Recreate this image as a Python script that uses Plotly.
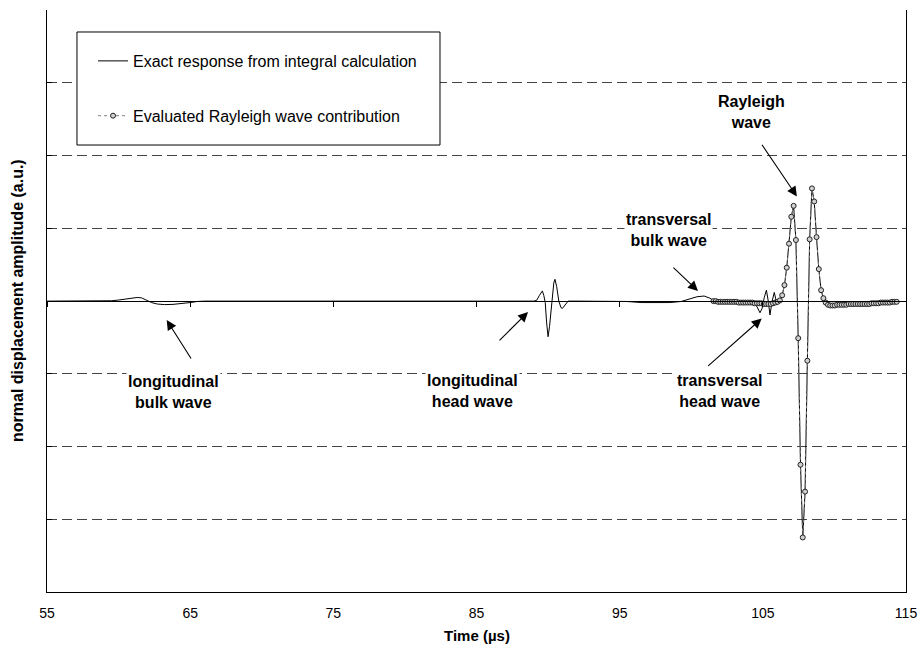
import plotly.graph_objects as go

# ---------------- data ----------------
# Exact response from integral calculation (time in µs, amplitude in a.u.)
exact_t = [55.0, 59.0, 59.5, 60.0, 60.5, 61.0, 61.3, 61.6, 62.0, 62.3, 62.7, 63.2, 63.8, 64.4,
           65.0, 65.5, 66.0, 89.0, 89.2, 89.4, 89.6, 89.7, 89.8, 89.9, 90.0, 90.1, 90.25,
           90.4, 90.48, 90.6, 90.75, 90.9, 91.0, 91.15, 91.4, 92.0, 95.5, 96.5, 97.5, 98.5,
           99.3, 99.8, 100.4, 100.9, 101.3, 101.6, 102.0, 103.0, 104.0, 104.4, 104.6, 104.8,
           104.95, 105.1, 105.25, 105.38, 105.5, 105.65, 105.8, 105.9, 106.0, 106.1,
           106.19, 106.35, 106.51, 106.67, 106.83, 106.99, 107.15, 107.31, 107.47, 107.63,
           107.79, 107.95, 108.11, 108.27, 108.43, 108.59, 108.75, 108.91, 109.07, 109.23,
           109.4, 109.6, 110.0, 111.0, 112.0, 113.0, 114.43]
exact_v = [0.0, 0.0, 0.005, 0.015, 0.03, 0.045, 0.05, 0.045, 0.01, -0.02, -0.04, -0.048, -0.045, -0.035,
           -0.02, -0.005, 0.0, 0.0, 0.01, 0.08, 0.14, 0.08, -0.02, -0.3, -0.49, -0.35, 0.0,
           0.25, 0.30, 0.2, 0.0, -0.09, -0.10, -0.06, 0.0, 0.0, -0.005, -0.02, -0.025, -0.02,
           -0.005, 0.02, 0.06, 0.07, 0.04, 0.005, -0.005, -0.01, -0.02, -0.04, -0.08, -0.16,
           -0.1, 0.05, 0.15, 0.0, -0.19, 0.0, 0.12, 0.03, -0.05, -0.01,
           0.01, 0.08, 0.22, 0.46, 0.79, 1.16, 1.31, 0.84, -0.51, -2.25,
           -3.25, -2.62, -0.82, 0.85, 1.55, 1.37, 0.88, 0.44, 0.15, 0.04,
           -0.03, -0.06, -0.06, -0.05, -0.04, -0.03, -0.01]

# Evaluated Rayleigh wave contribution
rayleigh_t = [101.55, 101.71, 101.87, 102.03, 102.19, 102.35, 102.51, 102.67, 102.83, 102.99,
              103.15, 103.31, 103.47, 103.63, 103.79, 103.95, 104.11, 104.27, 104.43, 104.59,
              104.75, 104.91, 105.07, 105.23, 105.39, 105.55, 105.71, 105.87, 106.03,
              106.19, 106.35, 106.51, 106.67, 106.83, 106.99, 107.15, 107.31, 107.47, 107.63,
              107.79, 107.95, 108.11, 108.27, 108.43, 108.59, 108.75, 108.91, 109.07, 109.23,
              109.39, 109.55, 109.71, 109.87, 110.03, 110.19, 110.35, 110.51, 110.67, 110.83,
              110.99, 111.15, 111.31, 111.47, 111.63, 111.79, 111.95, 112.11, 112.27, 112.43,
              112.59, 112.75, 112.91, 113.07, 113.23, 113.39, 113.55, 113.71, 113.87, 114.03,
              114.19, 114.35]
rayleigh_v = [0.00, 0.00, -0.01, -0.01, -0.01, -0.01, -0.01, -0.01, -0.01, -0.01,
              -0.01, -0.02, -0.02, -0.02, -0.02, -0.02, -0.02, -0.02, -0.03, -0.03,
              -0.03, -0.03, -0.04, -0.04, -0.04, -0.04, -0.03, -0.02, -0.01,
              0.01, 0.08, 0.22, 0.46, 0.79, 1.16, 1.31, 0.84, -0.51, -2.25,
              -3.25, -2.62, -0.82, 0.85, 1.55, 1.37, 0.88, 0.44, 0.15, 0.04,
              -0.02, -0.05, -0.06, -0.06, -0.06, -0.05, -0.05, -0.05, -0.05, -0.05,
              -0.04, -0.04, -0.04, -0.04, -0.04, -0.04, -0.04, -0.04, -0.04, -0.04,
              -0.03, -0.03, -0.03, -0.03, -0.02, -0.02, -0.02, -0.02, -0.02, -0.01,
              -0.01, -0.01]

x_ticks = [55, 65, 75, 85, 95, 105, 115]
y_grid = [-4, -3, -2, -1, 0, 1, 2, 3, 4]

# annotation labels: text, text centre (t, amplitude), arrow head (t, amplitude), arrow tail (t, amplitude)
label_text = ["longitudinal<br>bulk wave", "longitudinal<br>head wave", "transversal<br>bulk wave",
              "transversal<br>head wave", "Rayleigh<br>wave"]
label_pos = [(63.85, -1.25), (84.7, -1.24), (98.4, 0.98), (102.0, -1.24), (104.2, 2.60)]
arrow_head = [(63.36, -0.26), (88.6, -0.15), (100.47, 0.14), (104.92, -0.24), (107.38, 1.44)]
arrow_tail = [(65.13, -0.81), (86.5, -0.56), (98.65, 0.48), (101.08, -0.91), (104.87, 2.17)]

# ---------------- figure ----------------
FONT = "Arial, Liberation Sans, sans-serif"
fig = go.Figure()

fig.add_trace(go.Scatter(
    x=exact_t, y=exact_v, mode="lines",
    name="Exact response from integral calculation",
    line=dict(color="black", width=1),
    legendgroup="a",
))
fig.add_trace(go.Scatter(
    x=rayleigh_t, y=rayleigh_v, mode="lines+markers",
    name="Evaluated Rayleigh wave contribution",
    line=dict(color="#7f7f7f", width=1, dash="dot"),
    marker=dict(symbol="circle", size=5, color="#d0d0d0", line=dict(color="#222222", width=1)),
    legendgroup="b",
    xaxis="x2",
))

for text, (tx, ty), (hx, hy), (sx, sy) in zip(label_text, label_pos, arrow_head, arrow_tail):
    fig.add_annotation(x=tx, y=ty, text="<b>" + text + "</b>", showarrow=False,
                       font=dict(family=FONT, size=16, color="black"),
                       bgcolor="white", align="center", xanchor="center", yanchor="middle")
    fig.add_annotation(x=hx, y=hy, ax=sx, ay=sy, axref="x", ayref="y", text="",
                       showarrow=True, arrowhead=2, arrowsize=1.8, arrowwidth=1.1,
                       arrowcolor="black")

# axis titles
fig.add_annotation(xref="paper", yref="paper", x=-0.0349, y=0.5, text="<b>normal displacement amplitude (a.u.)</b>",
                   textangle=-90, showarrow=False, xanchor="center", yanchor="middle",
                   font=dict(family=FONT, size=16, color="black"))
fig.add_annotation(xref="paper", yref="paper", x=0.5, y=-0.0756, text="<b>Time (µs)</b>",
                   showarrow=False, xanchor="center", yanchor="middle",
                   font=dict(family=FONT, size=15, color="black"))

# legend frame
fig.add_shape(type="rect", xref="paper", yref="paper",
              x0=0.0349, x1=0.4575, y0=0.768, y1=0.9622,
              line=dict(color="black", width=1), fillcolor="white", layer="above")

fig.update_layout(
    width=922, height=655,
    margin=dict(l=47, r=16, t=10, b=63),
    paper_bgcolor="white", plot_bgcolor="white",
    font=dict(family=FONT, size=14, color="black"),
    showlegend=True,
    legend=dict(x=0.0536, y=0.9416, xanchor="left", yanchor="top",
                bgcolor="rgba(0,0,0,0)", borderwidth=0,
                font=dict(family=FONT, size=16, color="black"),
                itemwidth=30, tracegroupgap=31, traceorder="grouped"),
    xaxis=dict(range=[55, 115], tickvals=x_ticks, ticks="", showgrid=False, zeroline=False,
               showline=True, linecolor="black", linewidth=1, automargin=False,
               tickfont=dict(size=14), ticklabelstandoff=8, ticklabeloverflow="allow"),
    xaxis2=dict(overlaying="x", matches="x", anchor="free", position=0.5,
                tickvals=x_ticks, ticks="outside", ticklen=5, tickcolor="black",
                showticklabels=False, showgrid=False, zeroline=False,
                showline=True, linecolor="black", linewidth=1, layer="above traces"),
    yaxis=dict(range=[-4, 4.003], tickvals=y_grid, showticklabels=False,
               ticks="inside", ticklen=5, tickcolor="black", automargin=False,
               showgrid=True, gridcolor="#444444", griddash="10px,5px", gridwidth=1,
               zeroline=False, showline=True, linecolor="black", linewidth=1, mirror=True),
)

fig.write_html("out.html", config={"displayModeBar": False},
               post_script="document.body.style.margin='0px';")
